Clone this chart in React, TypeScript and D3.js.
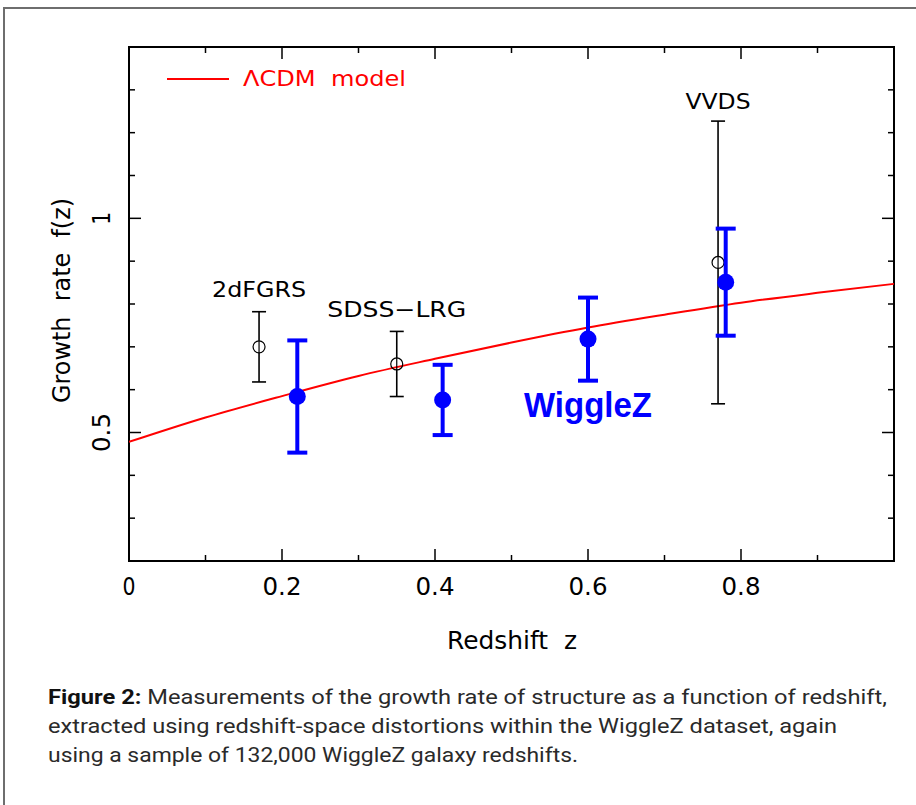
import React from "react";
import * as d3 from "d3";

// ---- data ----
const otherNames = ["2dFGRS", "SDSS\u2212LRG", "VVDS"];
const otherZ = [0.17, 0.35, 0.77];
const otherF = [0.70, 0.66, 0.897];
const otherErr = [0.082, 0.076, 0.33];

const wigZ = [0.22, 0.41, 0.60, 0.78];
const wigF = [0.584, 0.576, 0.718, 0.851];
const wigErr = [0.131, 0.082, 0.097, 0.125];

const modelZ = [0, 0.1, 0.2, 0.3, 0.4, 0.5, 0.6, 0.7, 0.8, 0.9, 1.0];
const modelF = [0.478, 0.535, 0.585, 0.632, 0.672, 0.71, 0.745, 0.775, 0.803, 0.826, 0.847];

const xMajor = [0, 0.2, 0.4, 0.6, 0.8, 1.0];
const xMinor = [0.1, 0.3, 0.5, 0.7, 0.9];
const xLabels = ["0", "0.2", "0.4", "0.6", "0.8"];
const yMajor = [0.5, 1.0];
const yMinor = [0.3, 0.4, 0.6, 0.7, 0.8, 0.9, 1.1, 1.2, 1.3];
const yLabels = ["0.5", "1"];

const captionLines = [
  { bold: "Figure 2:", rest: " Measurements of the growth rate of structure as a function of redshift,", w: 839 },
  { bold: "", rest: "extracted using redshift-space distortions within the WiggleZ dataset, again", w: 789 },
  { bold: "", rest: "using a sample of 132,000 WiggleZ galaxy redshifts.", w: 530 },
];

const L = 129, R = 894, T = 47, B = 561;
const PF = "'DejaVu Sans', sans-serif";
const pre = { whiteSpace: "pre" as const };

export default function App() {
  const x = d3.scaleLinear().domain([0, 1]).range([L, R]);
  const y = d3.scaleLinear().domain([0.2, 1.4]).range([B, T]);
  const line = d3
    .line<number>()
    .x((_, i) => x(modelZ[i]))
    .y((d) => y(d))
    .curve(d3.curveMonotoneX);
  const majLen = 12, minLen = 6;
  const labW = (t: string) => (t.length === 1 ? 13 : 39);
  const nameW = [94, 139, 65];
  const nameY = [297, 317, 109];

  return (
    <svg width={916} height={805} style={{ position: "absolute", left: 0, top: 0, background: "#fff" }}>
      <rect x={4} y={8} width={1000} height={900} fill="none" stroke="#6e6e6e" strokeWidth={2} />
      <defs>
        <clipPath id="plotclip">
          <rect x={L} y={T} width={R - L} height={B - T} />
        </clipPath>
      </defs>

      {/* ticks */}
      <g stroke="#000" strokeWidth={1.5}>
        {xMajor.map((v) => (
          <g key={"xM" + v}>
            <line x1={x(v)} x2={x(v)} y1={B} y2={B - majLen} />
            <line x1={x(v)} x2={x(v)} y1={T} y2={T + majLen} />
          </g>
        ))}
        {xMinor.map((v) => (
          <g key={"xm" + v}>
            <line x1={x(v)} x2={x(v)} y1={B} y2={B - minLen} />
            <line x1={x(v)} x2={x(v)} y1={T} y2={T + minLen} />
          </g>
        ))}
        {yMajor.map((v) => (
          <g key={"yM" + v}>
            <line x1={L} x2={L + majLen} y1={y(v)} y2={y(v)} />
            <line x1={R} x2={R - majLen} y1={y(v)} y2={y(v)} />
          </g>
        ))}
        {yMinor.map((v) => (
          <g key={"ym" + v}>
            <line x1={L} x2={L + minLen} y1={y(v)} y2={y(v)} />
            <line x1={R} x2={R - minLen} y1={y(v)} y2={y(v)} />
          </g>
        ))}
      </g>
      <rect x={L} y={T} width={R - L} height={B - T} fill="none" stroke="#000" strokeWidth={2} />

      {/* tick labels */}
      <g fontFamily={PF} fontSize={25} fill="#000">
        {xLabels.map((t, i) => (
          <text key={t} x={x(xMajor[i]) - labW(t) / 2} y={595} textLength={labW(t)} lengthAdjust="spacingAndGlyphs">{t}</text>
        ))}
        {yLabels.map((t, i) => (
          <text key={t} transform={`translate(110,${y(yMajor[i]) + labW(t) / 2}) rotate(-90)`} textLength={labW(t)} lengthAdjust="spacingAndGlyphs">{t}</text>
        ))}
        <text x={447} y={649} textLength={130} lengthAdjust="spacingAndGlyphs" style={pre}>Redshift  z</text>
        <text transform={`translate(70,403) rotate(-90)`} textLength={205} lengthAdjust="spacingAndGlyphs" style={pre}>Growth  rate  f(z)</text>
      </g>

      {/* model curve */}
      <path d={line(modelF) || ""} fill="none" stroke="#ff0000" strokeWidth={2} clipPath="url(#plotclip)" />

      {/* legend */}
      <line x1={167} x2={229} y1={79} y2={79} stroke="#ff0000" strokeWidth={2} />
      <text x={243} y={86} fontFamily={PF} fontSize={22} fill="#ff0000" textLength={163} lengthAdjust="spacingAndGlyphs" style={pre}>
        {"\u039BCDM  model"}
      </text>

      {/* other surveys */}
      <g stroke="#000" strokeWidth={1.6} fill="none">
        {otherZ.map((z, i) => {
          const cx = x(z), cy = y(otherF[i]);
          const t = y(otherF[i] + otherErr[i]), b = y(otherF[i] - otherErr[i]);
          return (
            <g key={"o" + i}>
              <line x1={cx} x2={cx} y1={t} y2={cy - 6} />
              <line x1={cx} x2={cx} y1={cy + 6} y2={b} />
              <line x1={cx - 7} x2={cx + 7} y1={t} y2={t} />
              <line x1={cx - 7} x2={cx + 7} y1={b} y2={b} />
              <circle cx={cx} cy={cy} r={6} strokeWidth={1.2} />
              <line x1={cx} x2={cx} y1={cy - 6} y2={cy + 6} strokeWidth={1.2} />
            </g>
          );
        })}
      </g>
      <g fontFamily={PF} fontSize={22} fill="#000">
        {otherNames.map((n, i) => (
          <text key={n} x={x(otherZ[i]) - nameW[i] / 2} y={nameY[i]} textLength={nameW[i]} lengthAdjust="spacingAndGlyphs">{n}</text>
        ))}
      </g>

      {/* WiggleZ */}
      <g stroke="#0000ff" fill="#0000ff">
        {wigZ.map((z, i) => {
          const cx = x(z), cy = y(wigF[i]);
          const t = y(wigF[i] + wigErr[i]), b = y(wigF[i] - wigErr[i]);
          return (
            <g key={"w" + i}>
              <line x1={cx} x2={cx} y1={t} y2={b} strokeWidth={4} />
              <line x1={cx - 10} x2={cx + 10} y1={t} y2={t} strokeWidth={4} />
              <line x1={cx - 10} x2={cx + 10} y1={b} y2={b} strokeWidth={4} />
              <circle cx={cx} cy={cy} r={8.5} stroke="none" />
            </g>
          );
        })}
      </g>
      <text x={524} y={417} fontFamily="'Liberation Sans', Arial, sans-serif" fontWeight="bold" fontSize={35} fill="#0000ff" textLength={128} lengthAdjust="spacingAndGlyphs">
        WiggleZ
      </text>

      {/* caption */}
      <g fontFamily="Roboto, 'Open Sans', sans-serif" fontSize={20} fill="#2a2a2a">
        {captionLines.map((c, i) => (
          <text key={i} x={48} y={704 + i * 29} textLength={c.w} lengthAdjust="spacingAndGlyphs">
            {c.bold ? <tspan fontWeight="bold" fill="#111">{c.bold}</tspan> : null}
            <tspan>{c.rest}</tspan>
          </text>
        ))}
      </g>
    </svg>
  );
}
